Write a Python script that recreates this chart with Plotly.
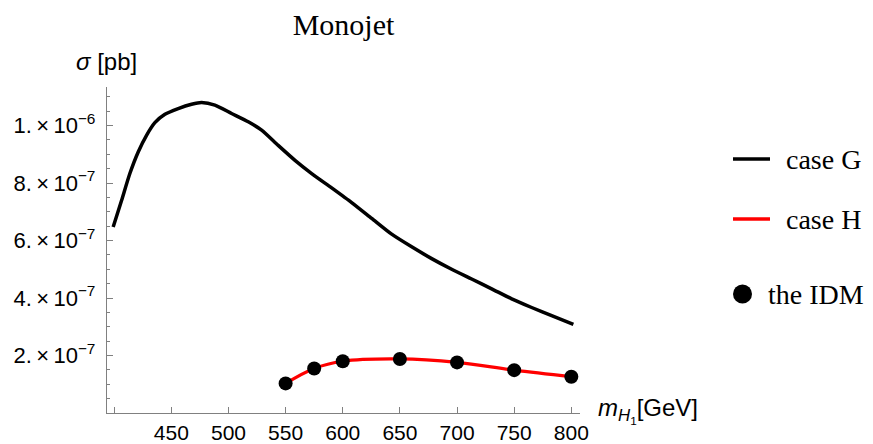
import plotly.graph_objects as go

# ---------------- data ----------------
mass_G = [399.1, 406.5, 413.7, 421.0, 428.3, 435.6, 444.4, 456.0, 467.7, 476.5, 488.1,
          502.7, 517.3, 529.0, 543.5, 558.2, 572.8, 590.3, 607.8, 625.3, 642.8, 660.3,
          677.8, 695.3, 712.8, 730.3, 747.8, 765.3, 782.8, 801.8]
sigma_G = [6.47e-7, 7.40e-7, 8.33e-7, 9.08e-7, 9.66e-7, 10.10e-7, 10.39e-7, 10.59e-7,
           10.74e-7, 10.80e-7, 10.71e-7, 10.42e-7, 10.13e-7, 9.84e-7, 9.31e-7, 8.79e-7,
           8.33e-7, 7.83e-7, 7.32e-7, 6.77e-7, 6.22e-7, 5.78e-7, 5.37e-7, 5.00e-7,
           4.66e-7, 4.32e-7, 3.97e-7, 3.67e-7, 3.39e-7, 3.08e-7]

mass_H = [550, 575, 600, 650, 700, 750, 800]
sigma_H = [1.03e-7, 1.55e-7, 1.80e-7, 1.88e-7, 1.76e-7, 1.49e-7, 1.26e-7]

# IDM points (same mass grid as case H)
mass_IDM = [550, 575, 600, 650, 700, 750, 800]
sigma_IDM = [1.03e-7, 1.55e-7, 1.80e-7, 1.88e-7, 1.76e-7, 1.49e-7, 1.26e-7]

x_tickvals = [450, 500, 550, 600, 650, 700, 750, 800]
x_ticktext = ["450", "500", "550", "600", "650", "700", "750", "800"]
y_tickvals = [2e-7, 4e-7, 6e-7, 8e-7, 1e-6]
y_ticktext = ["2.\u2009×\u200910<sup>−7</sup>", "4.\u2009×\u200910<sup>−7</sup>",
              "6.\u2009×\u200910<sup>−7</sup>", "8.\u2009×\u200910<sup>−7</sup>",
              "1.\u2009×\u200910<sup>−6</sup>"]
legend_labels = ["case G", "case H", "the IDM"]

# ---------------- layout geometry ----------------
OFF = 8                      # page body margin
W, H = 873 - OFF, 444 - OFF  # figure size
# plot area in screen pixels
L, R, T, B = 107, 580, 87, 413
PW, PH = R - L, B - T


def px(xs):
    return (xs - L) / PW


def py(ys):
    return (B - ys) / PH


AXIS_GRAY = "#808080"
SANS = "Liberation Sans, Arial, sans-serif"
SERIF = "Liberation Serif, Times New Roman, serif"

fig = go.Figure()
fig.add_trace(go.Scatter(x=mass_G, y=sigma_G, mode="lines", name=legend_labels[0],
                         line=dict(color="black", width=3.5, shape="spline", smoothing=0.6),
                         showlegend=False))
fig.add_trace(go.Scatter(x=mass_H, y=sigma_H, mode="lines", name=legend_labels[1],
                         line=dict(color="#ff0000", width=3.2, shape="spline", smoothing=1),
                         showlegend=False))
fig.add_trace(go.Scatter(x=mass_IDM, y=sigma_IDM, mode="markers", name=legend_labels[2],
                         marker=dict(color="black", size=14), showlegend=False))

shapes = []
annotations = []

# manual legend
leg_items = [(159, "line", "black", legend_labels[0], 784),
             (219, "line", "#ff0000", legend_labels[1], 784),
             (294, "dot", "black", legend_labels[2], 766)]
for yy, kind, col, lab, tx in leg_items:
    if kind == "line":
        shapes.append(dict(type="line", xref="paper", yref="paper",
                           x0=px(733), x1=px(770), y0=py(yy), y1=py(yy),
                           line=dict(color=col, width=3.5)))
    else:
        shapes.append(dict(type="circle", xref="paper", yref="paper",
                           xsizemode="pixel", ysizemode="pixel",
                           xanchor=px(742.5), yanchor=py(yy),
                           x0=-9.5, x1=9.5, y0=-9.5, y1=9.5,
                           fillcolor=col, line=dict(color=col, width=0)))
    annotations.append(dict(text=lab, xref="paper", yref="paper", x=px(tx), y=py(yy),
                            xanchor="left", yanchor="middle", showarrow=False,
                            font=dict(family=SERIF, size=28, color="black")))

# axis titles
annotations.append(dict(text="<i>σ</i> [pb]", xref="paper", yref="paper",
                        x=px(74), y=py(61), xanchor="left", yanchor="middle",
                        showarrow=False, font=dict(family=SANS, size=24, color="black")))
annotations.append(dict(text="<i>m</i><sub><i>H</i><sub>1</sub></sub>[GeV]", xref="paper", yref="paper",
                        x=px(596), y=py(410), xanchor="left", yanchor="middle",
                        showarrow=False, font=dict(family=SANS, size=24, color="black")))

fig.update_layout(
    width=W, height=H,
    margin=dict(l=L - OFF, r=W - (R - OFF), t=T - OFF, b=H - (B - OFF), autoexpand=False),
    paper_bgcolor="white", plot_bgcolor="white",
    title=dict(text="Monojet", x=px(343.5), xref="paper", xanchor="center",
               y=1 - (24 - OFF) / H, yref="container", yanchor="middle",
               font=dict(family=SERIF, size=30, color="black")),
    shapes=shapes, annotations=annotations,
    showlegend=False,
)
fig.update_xaxes(range=[393.7, 807.6], showgrid=False, zeroline=False, automargin=False,
                 showline=True, linecolor=AXIS_GRAY, linewidth=1.3,
                 tickvals=x_tickvals, ticktext=x_ticktext,
                 ticks="inside", ticklen=6, tickcolor=AXIS_GRAY, tickwidth=1,
                 minor=dict(tick0=400, dtick=50, ticks="inside", ticklen=6,
                            tickcolor=AXIS_GRAY, tickwidth=1, showgrid=False),
                 tickfont=dict(family=SANS, size=21, color="black"),
                 ticklabelstandoff=1)
fig.update_yaxes(range=[0, 1.134e-6], showgrid=False, zeroline=False, automargin=False,
                 showline=True, linecolor=AXIS_GRAY, linewidth=1.3,
                 tickvals=y_tickvals, ticktext=y_ticktext,
                 ticks="inside", ticklen=6, tickcolor=AXIS_GRAY, tickwidth=1,
                 minor=dict(dtick=5e-8, tick0=0, ticks="inside", ticklen=3,
                            tickcolor=AXIS_GRAY, tickwidth=1, showgrid=False),
                 tickfont=dict(family=SANS, size=22, color="black"),
                 ticklabelstandoff=6)

fig.write_html("out.html")
